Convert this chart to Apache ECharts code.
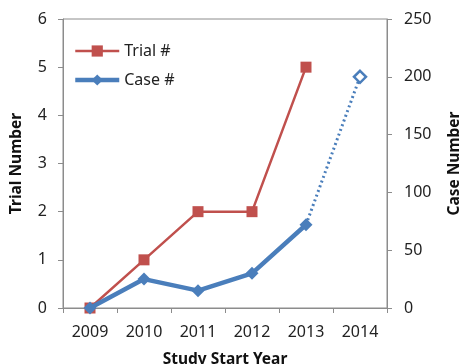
<!DOCTYPE html>
<html>
<head>
<meta charset="utf-8">
<script src="https://cdn.jsdelivr.net/npm/echarts@6/dist/echarts.min.js"></script>
<style>
  html, body { margin: 0; padding: 0; background: #fff; }
  #chart { width: 460px; height: 364px; }
</style>
</head>
<body>
<div id="chart"></div>
<script>
// Study start years and counts per year
const years = ['2009', '2010', '2011', '2012', '2013', '2014'];
const trialCounts = [0, 1, 2, 2, 5, null];
const caseCounts = [0, 25, 15, 30, 72, null];
// projected case count for 2014, joined to the last observed year by a dotted line
const caseProjected = [null, null, null, null, 72, 200];

const red = '#c0504d';
const blue = '#4a7ebb';
const axisGray = '#8c8c8c';
const font = '"Noto Sans", "Liberation Sans", sans-serif';

const chart = echarts.init(document.getElementById('chart'));
chart.setOption({
  animation: false,
  textStyle: { fontFamily: font },
  grid: {
    left: 63, right: 73, top: 19, bottom: 56,
    outerBoundsMode: 'none', containLabel: false,
    show: true, borderColor: axisGray, borderWidth: 1
  },
  legend: {
    data: [
      { name: 'Trial #', lineStyle: { width: 2.5 } },
      { name: 'Case #', lineStyle: { width: 4.5 } }
    ],
    orient: 'vertical',
    left: 73, top: 43, padding: 0,
    itemWidth: 44, itemHeight: 14, itemGap: 13,
    textStyle: { fontSize: 16, color: '#222', fontFamily: font }
  },
  xAxis: {
    type: 'category',
    data: years,
    boundaryGap: true,
    name: 'Study Start Year',
    nameLocation: 'middle',
    nameGap: 44,
    nameTextStyle: { fontSize: 15.5, fontWeight: 'bold', color: '#111' },
    axisLine: { lineStyle: { color: axisGray } },
    axisTick: { show: true, length: 5, lineStyle: { color: axisGray } },
    axisLabel: { fontSize: 16, color: '#222', margin: 16 }
  },
  yAxis: [
    {
      type: 'value', min: 0, max: 6, interval: 1,
      name: 'Trial Number', nameLocation: 'middle', nameGap: 38,
      nameTextStyle: { fontSize: 15.5, fontWeight: 'bold', color: '#111' },
      axisLine: { show: true, lineStyle: { color: axisGray } },
      axisTick: { show: true, length: 5, lineStyle: { color: axisGray } },
      splitLine: { show: false },
      axisLabel: { fontSize: 16, color: '#222', margin: 16 }
    },
    {
      type: 'value', min: 0, max: 250, interval: 50, position: 'right',
      name: 'Case Number', nameLocation: 'middle', nameGap: 60,
      nameRotate: 90,
      nameTextStyle: { fontSize: 15.5, fontWeight: 'bold', color: '#111' },
      axisLine: { show: true, lineStyle: { color: axisGray } },
      axisTick: { show: true, length: 5, lineStyle: { color: axisGray } },
      splitLine: { show: false },
      axisLabel: { fontSize: 16, color: '#222', margin: 17 }
    }
  ],
  series: [
    {
      name: 'Trial #', type: 'line', yAxisIndex: 0,
      data: trialCounts,
      symbol: 'rect', symbolSize: 11,
      itemStyle: { color: red },
      lineStyle: { color: red, width: 2.5 },
      z: 3
    },
    {
      name: 'Case #', type: 'line', yAxisIndex: 1,
      data: caseCounts,
      symbol: 'diamond', symbolSize: 13,
      itemStyle: { color: blue },
      lineStyle: { color: blue, width: 4.5 },
      z: 4
    },
    {
      name: 'Case projected', type: 'line', yAxisIndex: 1,
      data: caseProjected.map((v, i) => (i === years.length - 1
        ? { value: v, symbol: 'diamond', symbolSize: 12 }
        : { value: v, symbol: 'none' })),
      itemStyle: { color: '#fff', borderColor: blue, borderWidth: 2.5 },
      lineStyle: { color: blue, width: 3, type: [2, 3] },
      z: 2
    }
  ]
});
</script>
</body>
</html>
